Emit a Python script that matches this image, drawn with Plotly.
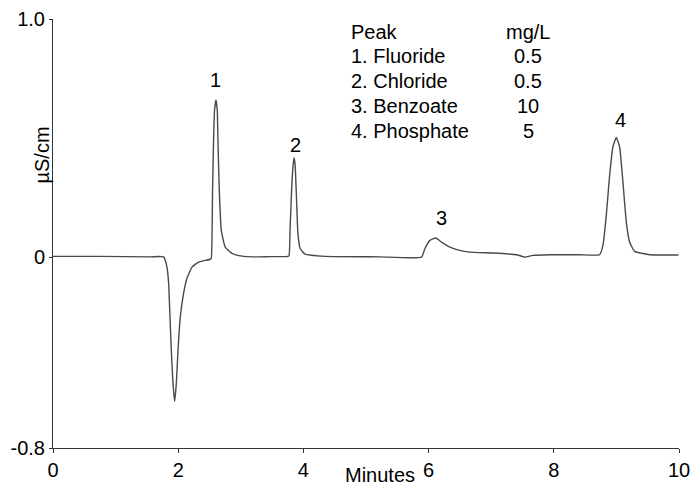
import plotly.graph_objects as go

# Chromatogram trace (minutes, µS/cm)
time_min = [0.0, 0.76, 1.555, 1.767, 1.821, 1.847, 1.869, 1.890, 1.917, 1.943, 1.970, 1.997,
            2.033, 2.086, 2.140, 2.220, 2.325, 2.432, 2.512, 2.528, 2.549, 2.565, 2.581, 2.603,
            2.624, 2.635, 2.656, 2.688, 2.751, 2.858, 3.018, 3.198, 3.469, 3.756, 3.772, 3.788,
            3.815, 3.836, 3.852, 3.868, 3.888, 3.911, 3.947, 4.027, 4.346, 5.223, 5.888, 5.941,
            6.021, 6.116, 6.207, 6.340, 6.499, 6.659, 7.026, 7.404, 7.536, 7.663, 7.935, 8.413,
            8.732, 8.785, 8.839, 8.892, 8.945, 8.998, 9.051, 9.104, 9.158, 9.211, 9.290, 9.423,
            9.530, 9.992]
signal = [0.004, 0.004, 0.002, 0.002, -0.041, -0.109, -0.251, -0.391, -0.530, -0.604, -0.530, -0.391,
          -0.251, -0.151, -0.088, -0.041, -0.020, -0.013, -0.008, -0.005, 0.282, 0.492, 0.618, 0.660,
          0.618, 0.492, 0.282, 0.114, 0.043, 0.017, 0.005, 0.002, 0.003, 0.004, 0.008, 0.122,
          0.303, 0.387, 0.418, 0.387, 0.261, 0.106, 0.038, 0.013, 0.004, 0.002, 0.001, 0.037,
          0.071, 0.081, 0.064, 0.043, 0.029, 0.022, 0.018, 0.011, 0.001, 0.008, 0.011, 0.011,
          0.011, 0.050, 0.177, 0.345, 0.464, 0.503, 0.464, 0.317, 0.148, 0.064, 0.025, 0.016,
          0.011, 0.010]

peak_numbers = ["1", "2", "3", "4"]
peak_names = ["1. Fluoride", "2. Chloride", "3. Benzoate", "4. Phosphate"]
peak_conc = ["0.5", "0.5", "10", "5"]

x_ticks = [0, 2, 4, 6, 8, 10]
y_ticks = [1.0, 0, -0.8]
y_tick_text = ["1.0", "0", "-0.8"]

FONT = "Helvetica, Arial, Liberation Sans, sans-serif"
FS = 20

fig = go.Figure()
fig.add_trace(go.Scatter(
    x=time_min, y=signal, mode="lines",
    line=dict(color="#4a4a4a", width=1.4, shape="spline", smoothing=0.4),
    hoverinfo="skip", showlegend=False,
))

W, H = 696, 485
L, R, T, B = 52.5, 17, 19, 37
pw, ph = W - L - R, H - T - B

def px(xp):
    return (xp - L) / pw

def py(yp):
    return (H - B - yp) / ph

annotations = []
label_pos = [(2.59, 0.744), (3.87, 0.47), (6.21, 0.164), (9.06, 0.575)]
for txt, (lx, ly) in zip(peak_numbers, label_pos):
    annotations.append(dict(x=lx, y=ly, xref="x", yref="y", text=txt, showarrow=False,
                            font=dict(size=FS, color="black", family=FONT),
                            xanchor="center", yanchor="middle"))

rows_y = [31.7, 56.5, 81.3, 106.0, 130.8]
col1 = ["Peak"] + peak_names
col2 = ["mg/L"] + peak_conc
for i in range(5):
    annotations.append(dict(x=px(349), y=py(rows_y[i]), xref="paper", yref="paper",
                            text=col1[i], showarrow=False, xanchor="left", yanchor="middle",
                            font=dict(size=FS, color="black", family=FONT)))
    annotations.append(dict(x=px(528), y=py(rows_y[i]), xref="paper", yref="paper",
                            text=col2[i], showarrow=False, xanchor="center", yanchor="middle",
                            font=dict(size=FS, color="black", family=FONT)))

annotations.append(dict(x=px(380), y=py(474.5), xref="paper", yref="paper", text="Minutes",
                        showarrow=False, xanchor="center", yanchor="middle",
                        font=dict(size=FS, color="black", family=FONT)))
annotations.append(dict(x=px(41), y=py(155), xref="paper", yref="paper", text="µS/cm",
                        showarrow=False, xanchor="center", yanchor="middle", textangle=-90,
                        font=dict(size=FS, color="black", family=FONT)))

fig.update_layout(
    width=W, height=H,
    margin=dict(l=L, r=R, t=T, b=B, pad=0, autoexpand=False),
    paper_bgcolor="white", plot_bgcolor="white",
    font=dict(family=FONT, size=FS, color="black"),
    annotations=annotations,
    xaxis=dict(range=[0, 10], tickvals=x_ticks, ticktext=[str(v) for v in x_ticks],
               showgrid=False, zeroline=False, showline=True, linecolor="#333333", linewidth=1,
               ticks="outside", ticklen=4, tickcolor="#333333", tickwidth=1, automargin=False,
               tickfont=dict(size=FS, family=FONT, color="black")),
    yaxis=dict(range=[-0.8, 1.0], tickvals=y_ticks, ticktext=y_tick_text,
               showgrid=False, zeroline=False, showline=True, linecolor="#333333", linewidth=1,
               ticks="outside", ticklen=3, tickcolor="#333333", tickwidth=1, automargin=False,
               tickfont=dict(size=FS, family=FONT, color="black")),
)

fig.write_html("out.html", config={"displayModeBar": False},
               post_script="document.body.style.margin='0';document.body.style.overflow='hidden';")
